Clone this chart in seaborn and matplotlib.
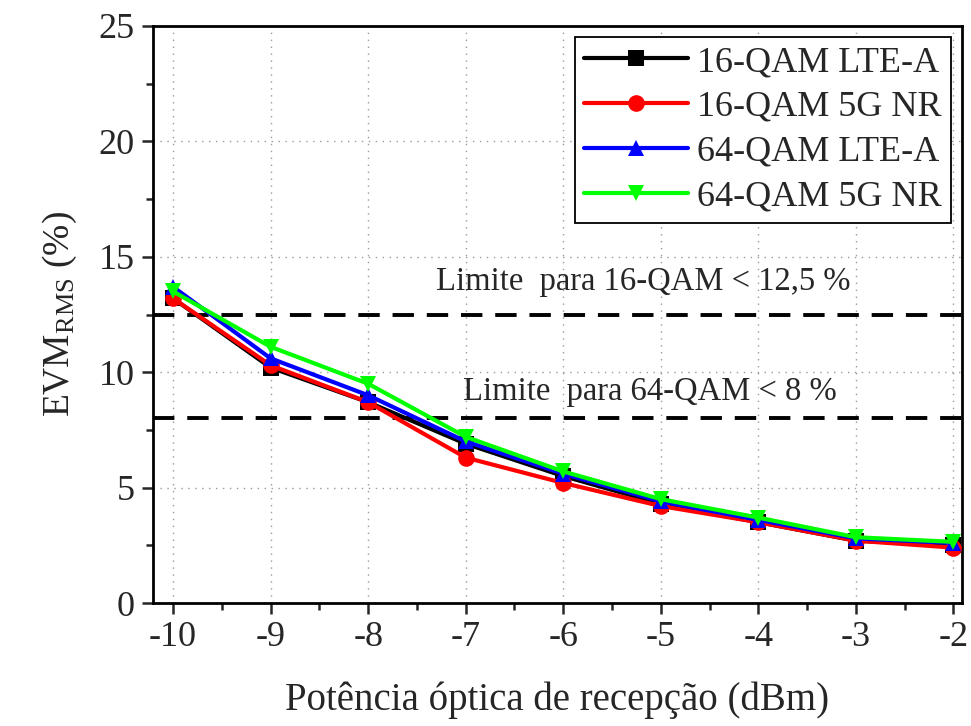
import matplotlib
matplotlib.use("Agg")
import matplotlib.pyplot as plt
import seaborn as sns
import pandas as pd
from matplotlib.ticker import MultipleLocator

power = [-10, -9, -8, -7, -6, -5, -4, -3, -2]
series_names = ["16-QAM LTE-A", "16-QAM 5G NR", "64-QAM LTE-A", "64-QAM 5G NR"]
evm_16_lte = [13.2, 10.2, 8.7, 6.9, 5.5, 4.3, 3.5, 2.7, 2.5]
evm_16_nr = [13.2, 10.3, 8.7, 6.3, 5.2, 4.2, 3.5, 2.7, 2.4]
evm_64_lte = [13.7, 10.6, 9.0, 7.0, 5.6, 4.4, 3.6, 2.8, 2.6]
evm_64_nr = [13.5, 11.1, 9.5, 7.2, 5.7, 4.5, 3.7, 2.85, 2.65]
limits = [12.5, 8.0]
limit_labels = ["Limite  para 16-QAM < 12,5 %", "Limite  para 64-QAM < 8 %"]
x_ticks = [-10, -9, -8, -7, -6, -5, -4, -3, -2]
y_ticks = [0, 5, 10, 15, 20, 25]

colors = ["#000000", "#ff0000", "#0000ff", "#00ff00"]
markers = ["s", "o", "^", "v"]

rows = []
for name, vals in zip(series_names, [evm_16_lte, evm_16_nr, evm_64_lte, evm_64_nr]):
    for p, v in zip(power, vals):
        rows.append({"power": p, "evm": v, "series": name})
df = pd.DataFrame(rows)

sns.set_style("white")
plt.rcParams["font.family"] = ["Liberation Serif", "DejaVu Serif"]
plt.rcParams["mathtext.fontset"] = "custom"
plt.rcParams["mathtext.rm"] = "Liberation Serif"
plt.rcParams["mathtext.it"] = "Liberation Serif:italic"

fig = plt.figure(figsize=(9.71, 7.26), dpi=100)
ax = fig.add_axes([0.1576, 0.1694, 0.9907 - 0.1576, 0.9642 - 0.1694])

# limit lines
for lv in limits:
    ax.axhline(lv, color="black", linestyle=(0, (5.5, 3.3)), linewidth=2.8, zorder=2)

sns.lineplot(data=df, x="power", y="evm", hue="series", style="series",
             hue_order=series_names, style_order=series_names,
             palette=colors, markers=markers, dashes=False,
             linewidth=3.0, markersize=12, markeredgewidth=0,
             ax=ax, zorder=3)

ax.set_xlim(-10.205, -1.913)
ax.set_ylim(0, 25)
ax.set_xticks(x_ticks)
ax.set_xticklabels([str(t) for t in x_ticks])
ax.set_yticks(y_ticks)
ax.xaxis.set_minor_locator(MultipleLocator(0.5))
ax.yaxis.set_minor_locator(MultipleLocator(2.5))
ax.tick_params(axis="both", which="major", direction="out", length=8, width=1.8,
               labelsize=26, bottom=True, left=True, top=False, right=False, pad=5)
ax.tick_params(axis="both", which="minor", direction="out", length=5, width=1.8,
               bottom=True, left=True, top=False, right=False)
for s in ax.spines.values():
    s.set_color("black")
    s.set_linewidth(2.0)

ax.grid(True, which="major", color="#999999", linestyle=(0, (1, 4)), linewidth=1.0)
ax.set_axisbelow(True)

ax.set_xlabel("Potência óptica de recepção (dBm)", fontsize=28, labelpad=20)
ax.set_ylabel(r"EVM$_{\mathrm{RMS}}$ (%)", fontsize=27, labelpad=14)

ax.text(-5.18, 13.9, limit_labels[0], fontsize=23.5, ha="center", va="center")
ax.text(-5.11, 9.14, limit_labels[1], fontsize=23.5, ha="center", va="center")

leg = ax.legend(loc="upper right", fontsize=26, frameon=True, fancybox=False,
                edgecolor="black", framealpha=1, handlelength=2.9,
                borderpad=0.25, labelspacing=0.32, handletextpad=0.25,
                borderaxespad=0.3)
leg.get_frame().set_linewidth(1.3)
for h in leg.legend_handles:
    h.set_linewidth(3.0)
    h.set_markersize(12)

fig.savefig("out.png", dpi=100)
